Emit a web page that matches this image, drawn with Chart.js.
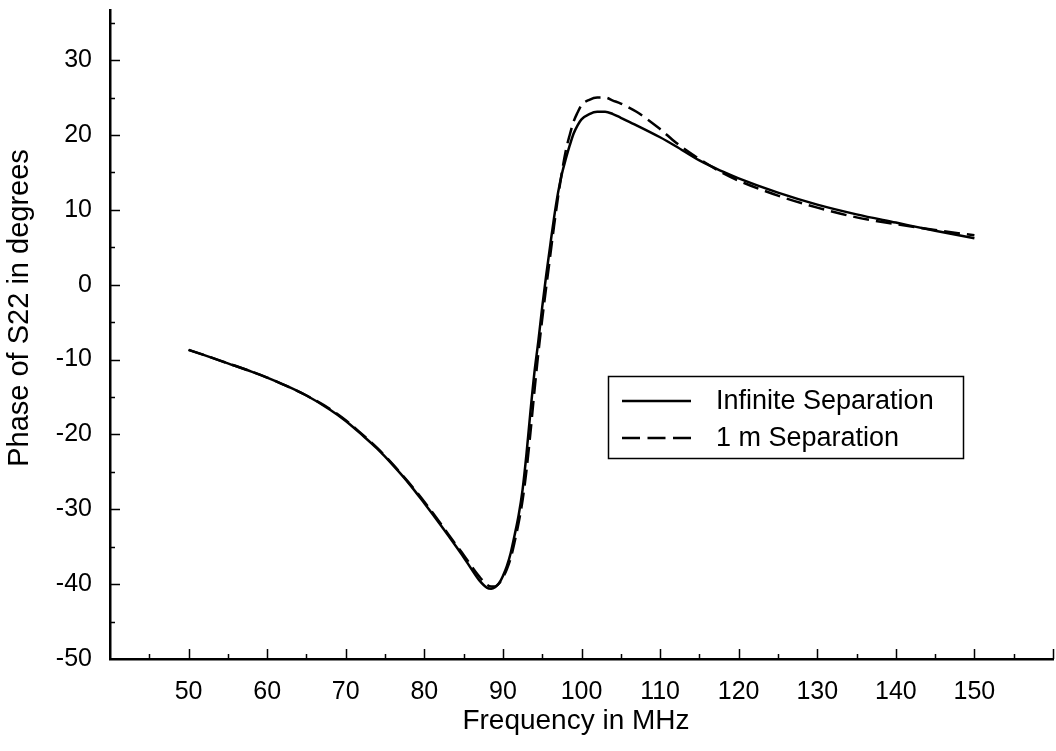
<!DOCTYPE html>
<html>
<head>
<meta charset="utf-8">
<script src="https://cdn.jsdelivr.net/npm/chart.js@4/dist/chart.umd.min.js"></script>
<style>
html,body{margin:0;padding:0;background:#fff;}
#wrap{width:1056px;height:751px;position:relative;}
</style>
</head>
<body>
<div id="wrap"><canvas id="c" width="1056" height="751"></canvas></div>
<script>
// ---- data ----
const frequencies = [50,52,55,58,60,62,65,68,70,72,74,76,78,80,82,84,85,86,87,88,88.5,89,89.5,90,90.5,91,91.5,92,92.5,93,93.5,94,94.5,95,95.5,96,96.5,97,97.5,98,98.5,99,99.5,100,101,102,103,104,105,107,110,112,115,118,120,125,130,135,140,145,150];
const infiniteSeparation = [-8.7,-9.4,-10.5,-11.6,-12.4,-13.3,-14.8,-16.7,-18.2,-20.0,-21.9,-24.1,-26.5,-29.2,-32.0,-34.9,-36.4,-38.0,-39.5,-40.5,-40.6,-40.4,-39.9,-38.9,-37.6,-35.8,-33.4,-30.8,-27.4,-22.6,-17.0,-11.8,-7.6,-3.0,1.2,5.1,8.9,12.2,14.8,16.8,18.6,20.2,21.3,22.1,22.8,23.1,23.1,22.8,22.3,21.3,19.7,18.5,16.6,15.1,14.2,12.3,10.7,9.4,8.3,7.2,6.2];
const oneMeterSeparation = [-8.7,-9.4,-10.5,-11.6,-12.4,-13.3,-14.8,-16.6,-18.1,-19.9,-21.8,-24.0,-26.4,-29.0,-31.8,-34.7,-36.1,-37.6,-39.0,-40.1,-40.3,-40.3,-39.9,-39.1,-38.0,-36.5,-34.3,-31.8,-28.8,-24.8,-19.8,-14.3,-9.2,-4.6,-0.4,3.7,7.8,11.6,15.0,17.9,20.0,21.8,23.0,24.0,24.7,25.0,25.0,24.6,24.2,23.1,20.8,19.0,16.8,14.9,13.9,11.9,10.3,9.0,8.1,7.3,6.6];
const seriesLabels = ["Infinite Separation", "1 m Separation"];
const xTickLabels = [50,60,70,80,90,100,110,120,130,140,150];
const yTickLabels = [-50,-40,-30,-20,-10,0,10,20,30];
const xTitle = "Frequency in MHz";
const yTitle = "Phase of S22 in degrees";

const FONT = "'Liberation Sans', Arial, sans-serif";

function pts(ys){ return frequencies.map((f,i)=>({x:f,y:ys[i]})); }

const inwardTicks = {
  id:'inwardTicks',
  afterDraw(chart){
    const ctx = chart.ctx, xs = chart.scales.x, ys = chart.scales.y;
    const ca = chart.chartArea;
    ctx.save();
    ctx.strokeStyle = '#000';
    ctx.lineWidth = 1.5;
    ctx.beginPath();
    for (let v = 45; v <= 160; v += 5) {
      const px = Math.round(xs.getPixelForValue(v)) + 0.5;
      const len = (v % 10 === 0) ? 10 : 5;
      ctx.moveTo(px, ca.bottom);
      ctx.lineTo(px, ca.bottom - len);
    }
    for (let v = -45; v <= 35; v += 5) {
      const py = Math.round(ys.getPixelForValue(v)) + 0.5;
      const len = (v % 10 === 0) ? 10 : 5;
      ctx.moveTo(ca.left, py);
      ctx.lineTo(ca.left + len, py);
    }
    ctx.stroke();
    // axis titles (real text)
    ctx.fillStyle = '#000';
    ctx.textAlign = 'center';
    ctx.textBaseline = 'middle';
    ctx.font = "28px " + FONT;
    ctx.fillText(xTitle, 576, 721);
    ctx.font = "29px " + FONT;
    ctx.translate(20, 308);
    ctx.rotate(-Math.PI/2);
    ctx.fillText(yTitle, 0, 0);
    ctx.restore();
  }
};

const boxLegend = {
  id:'boxLegend',
  afterDraw(chart){
    const ctx = chart.ctx;
    ctx.save();
    ctx.strokeStyle = '#000';
    ctx.lineWidth = 1.5;
    ctx.strokeRect(608.5, 376.5, 355, 82);
    ctx.font = "27px " + FONT;
    ctx.fillStyle = '#000';
    ctx.textBaseline = 'middle';
    const rows = [401, 438];
    chart.data.datasets.forEach((ds, i) => {
      ctx.beginPath();
      ctx.lineWidth = ds.borderWidth;
      ctx.setLineDash(ds.borderDash ? [18,7.5] : []);
      ctx.moveTo(622, rows[i]);
      ctx.lineTo(691, rows[i]);
      ctx.stroke();
      ctx.setLineDash([]);
      ctx.fillText(ds.label, 716, rows[i] + 1);
    });
    ctx.restore();
  }
};

new Chart(document.getElementById('c'), {
  type: 'line',
  data: {
    datasets: [
      { label: seriesLabels[0], data: pts(infiniteSeparation), borderColor:'#000', borderWidth:2.5, pointRadius:0, fill:false, cubicInterpolationMode:'monotone' },
      { label: seriesLabels[1], data: pts(oneMeterSeparation), borderColor:'#000', borderWidth:2.5, borderDash:[16,7], pointRadius:0, fill:false, cubicInterpolationMode:'monotone' }
    ]
  },
  options: {
    responsive:false,
    animation:false,
    events:[],
    layout:{ padding:{ top:10, right:3, left:0, bottom:0 } },
    plugins:{ legend:{display:false}, tooltip:{enabled:false} },
    scales:{
      x:{
        type:'linear', min:40, max:160,
        grid:{ display:false, drawTicks:false },
        border:{ display:true, color:'#000', width:2.5 },
        ticks:{ stepSize:10, includeBounds:false, maxRotation:0, autoSkip:false, padding:18, color:'#000',
          font:{ family:FONT, size:25 },
          callback:(v)=> xTickLabels.includes(v) ? String(v) : '' },
        title:{ display:false, text:xTitle },
        afterFit(s){ s.height = 92; s.paddingLeft = 0; s.paddingRight = 0; }
      },
      y:{
        type:'linear', min:-50, max:36.7,
        grid:{ display:false, drawTicks:false },
        border:{ display:true, color:'#000', width:2.5 },
        ticks:{ stepSize:10, includeBounds:false, autoSkip:false, padding:18, color:'#000',
          font:{ family:FONT, size:25 },
          callback:(v)=> yTickLabels.includes(v) ? String(v) : '' },
        title:{ display:false, text:yTitle },
        afterFit(s){ s.width = 110; s.paddingTop = 0; s.paddingBottom = 0; }
      }
    }
  },
  plugins:[inwardTicks, boxLegend]
});
</script>
</body>
</html>
